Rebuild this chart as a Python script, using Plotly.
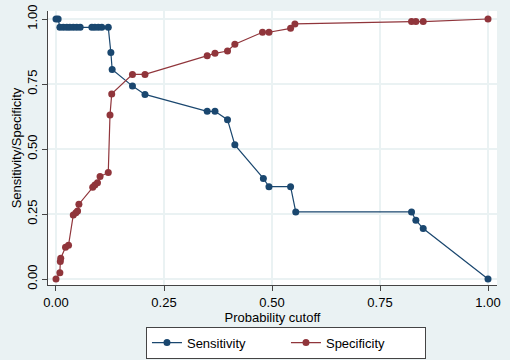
import plotly.graph_objects as go

sens_x = [0, 0.005, 0.009, 0.017, 0.025, 0.032, 0.040, 0.048, 0.056, 0.083, 0.090, 0.098,
          0.106, 0.121, 0.127, 0.130, 0.177, 0.206, 0.350, 0.368, 0.397, 0.414, 0.480,
          0.493, 0.543, 0.555, 0.823, 0.833, 0.850, 1.0]
sens_y = [1, 1, 0.968, 0.968, 0.968, 0.968, 0.968, 0.968, 0.968, 0.968, 0.968, 0.968,
          0.968, 0.968, 0.871, 0.806, 0.742, 0.710, 0.645, 0.645, 0.613, 0.516, 0.387,
          0.355, 0.355, 0.258, 0.258, 0.226, 0.194, 0]

spec_x = [0, 0.009, 0.010, 0.011, 0.022, 0.029, 0.040, 0.046, 0.050, 0.053, 0.085, 0.090,
          0.096, 0.102, 0.121, 0.125, 0.129, 0.177, 0.206, 0.350, 0.368, 0.397, 0.414,
          0.478, 0.493, 0.543, 0.553, 0.823, 0.833, 0.850, 1.0]
spec_y = [0, 0.024, 0.067, 0.080, 0.122, 0.130, 0.246, 0.255, 0.262, 0.288, 0.353, 0.362,
          0.370, 0.394, 0.410, 0.631, 0.712, 0.787, 0.787, 0.859, 0.868, 0.877, 0.903,
          0.949, 0.949, 0.964, 0.981, 0.990, 0.990, 0.990, 1.0]

ticks = [0, 0.25, 0.5, 0.75, 1.0]
tick_labels = ["0.00", "0.25", "0.50", "0.75", "1.00"]

NAVY = "#1a476f"
MAROON = "#90353b"
BG = "#eaf2f3"
FONT = "Liberation Sans, Arial, sans-serif"

fig = go.Figure()
fig.add_trace(go.Scatter(x=sens_x, y=sens_y, mode="lines+markers", name="Sensitivity",
                         line=dict(color=NAVY, width=1.2),
                         marker=dict(color=NAVY, size=7)))
fig.add_trace(go.Scatter(x=spec_x, y=spec_y, mode="lines+markers", name="Specificity",
                         line=dict(color=MAROON, width=1.2),
                         marker=dict(color=MAROON, size=7)))

axis_common = dict(showline=True, linecolor="#444444", linewidth=1, ticks="outside",
                   ticklen=5, tickcolor="#444444", showgrid=True, gridcolor=BG,
                   gridwidth=1.5, zeroline=False, tickfont=dict(size=13, color="#000000"),
                   mirror=False, automargin=False)

fig.update_xaxes(range=[-0.0185, 1.0208], tickvals=ticks, ticktext=tick_labels,
                 title=dict(text="Probability cutoff", font=dict(size=13, color="#000000"),
                            standoff=0),
                 **axis_common)
fig.update_yaxes(range=[-0.023, 1.0308], tickvals=ticks, ticktext=tick_labels,
                 tickangle=-90,
                 title=dict(text="Sensitivity/Specificity", font=dict(size=13, color="#000000"),
                            standoff=0),
                 **axis_common)

fig.update_layout(
    width=510, height=360,
    margin=dict(l=48, r=13, t=11, b=75, autoexpand=False),
    paper_bgcolor=BG, plot_bgcolor="#ffffff",
    font=dict(family=FONT, size=13, color="#000000"),
    legend=dict(orientation="h", x=0.53, xanchor="center", y=-0.152, yanchor="top",
                bgcolor="#ffffff", bordercolor="#444444", borderwidth=1,
                font=dict(size=13), entrywidth=94, entrywidthmode="pixels",
                tracegroupgap=0),
    showlegend=True,
)

post_js = ("document.body.style.margin='0';document.body.style.padding='0';"
           "document.body.style.overflow='hidden';"
           "document.body.style.background='" + BG + "';")

fig.write_html("out.html", post_script=post_js, config={"displayModeBar": False})
